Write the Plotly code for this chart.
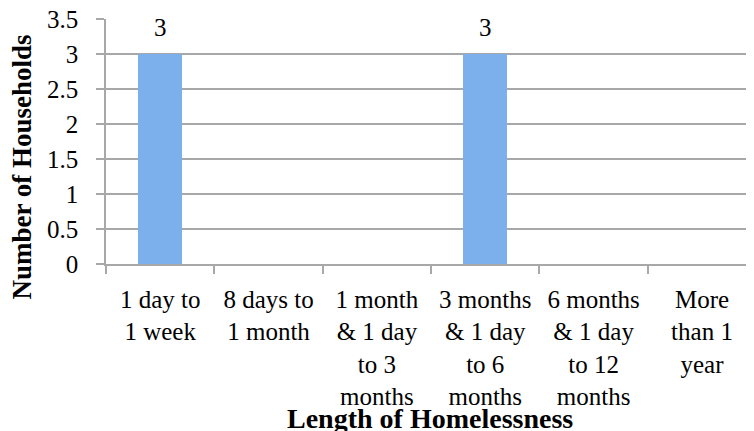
import plotly.graph_objects as go

categories = [
    "1 day to<br>1 week",
    "8 days to<br>1 month",
    "1 month<br>& 1 day<br>to 3<br>months",
    "3 months<br>& 1 day<br>to 6<br>months",
    "6 months<br>& 1 day<br>to 12<br>months",
    "More<br>than 1<br>year",
]
households = [3, None, None, 3, None, None]
y_ticks = [0, 0.5, 1, 1.5, 2, 2.5, 3, 3.5]
y_tick_labels = ["0", "0.5", "1", "1.5", "2", "2.5", "3", "3.5"]
x_title = "Length of Homelessness"
y_title = "Number of Households"

FONT = "Liberation Serif"
GRID = "#a8a8a8"

fig = go.Figure()
fig.add_trace(go.Bar(
    x=categories,
    y=households,
    width=0.41,
    marker=dict(color="#7cb0ec", line=dict(width=0)),
    cliponaxis=False,
))

annotations = []
for c, v in zip(categories, households):
    if v is not None:
        annotations.append(dict(
            x=c, y=v, xref="x", yref="y", text=str(v), showarrow=False,
            yanchor="bottom", yshift=11, font=dict(family=FONT, size=25, color="#000000"),
        ))
annotations.append(dict(
    x=0.5, y=0, xref="paper", yref="paper", text="<b>" + x_title + "</b>",
    showarrow=False, xanchor="center", yanchor="middle", yshift=-154,
    font=dict(family=FONT, size=28, color="#000000"),
))
annotations.append(dict(
    x=0, y=0.5, xref="paper", yref="paper", text="<b>" + y_title + "</b>",
    showarrow=False, xanchor="center", yanchor="middle", textangle=-90,
    xshift=-85, yshift=-26,
    font=dict(family=FONT, size=27, color="#000000"),
))

fig.update_layout(
    width=746, height=423,
    margin=dict(l=98, r=0, t=11, b=167, autoexpand=False),
    paper_bgcolor="white", plot_bgcolor="white",
    showlegend=False,
    font=dict(family=FONT, size=25, color="#000000"),
    annotations=annotations,
    bargap=0,
)
fig.update_xaxes(
    type="category",
    range=[-0.5, 5.48],
    tickson="boundaries",
    ticks="outside", ticklen=8, tickcolor=GRID, tickwidth=1.5,
    showgrid=False,
    showline=True, linecolor=GRID, linewidth=1.5,
    tickfont=dict(family=FONT, size=25),
    ticklabelstandoff=12,
    automargin=False,
)
fig.update_yaxes(
    range=[0, 3.5],
    tickvals=y_ticks, ticktext=y_tick_labels,
    ticks="outside", ticklen=8, tickcolor=GRID, tickwidth=1.5,
    showgrid=True, gridcolor=GRID, gridwidth=1.5,
    showline=True, linecolor=GRID, linewidth=1.5,
    zeroline=False,
    tickfont=dict(family=FONT, size=25),
    ticklabelstandoff=13,
    ticklabeloverflow="allow",
    automargin=False,
)

fig.write_html("out.html")
